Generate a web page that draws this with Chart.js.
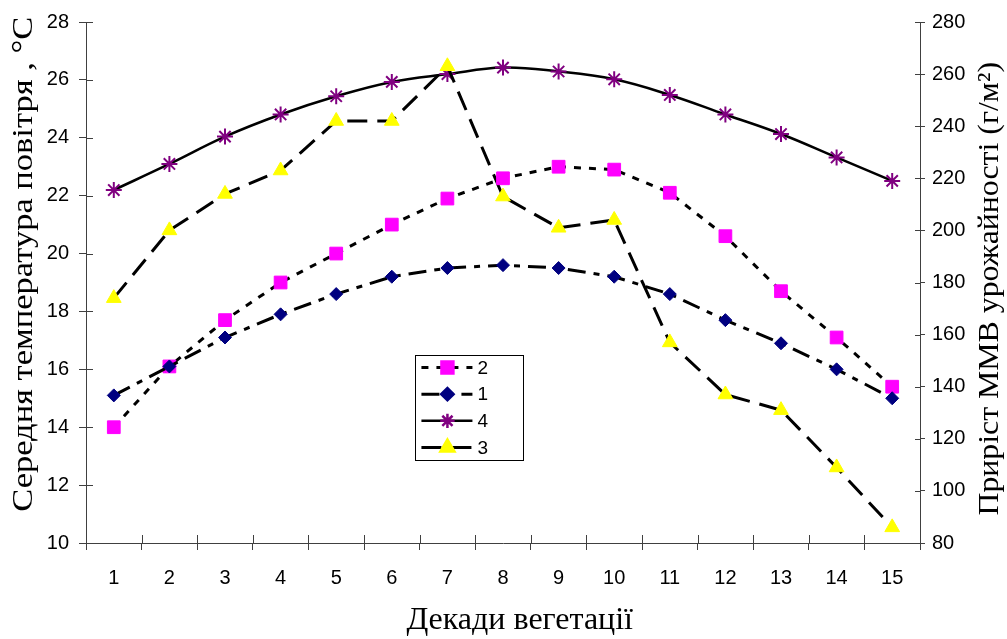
<!DOCTYPE html>
<html>
<head>
<meta charset="utf-8">
<script src="https://cdn.jsdelivr.net/npm/chart.js@4.4.0/dist/chart.umd.min.js"></script>
<style>
    html, body { margin: 0; padding: 0; background: #fff; }
    #wrap { width: 1007px; height: 639px; position: relative; }
</style>
</head>
<body>
<div id="wrap"><canvas id="chart"></canvas></div>
<script>
// Декади вегетації
const decades = ['1', '2', '3', '4', '5', '6', '7', '8', '9', '10', '11', '12', '13', '14', '15'];

// temperature series (left axis, °C)
const series1 = [15.1, 16.1, 17.1, 17.9, 18.6, 19.2, 19.5, 19.6, 19.5, 19.2, 18.6, 17.7, 16.9, 16.0, 15.0];
const series2 = [14.0, 16.1, 17.7, 19.0, 20.0, 21.0, 21.9, 22.6, 23.0, 22.9, 22.1, 20.6, 18.7, 17.1, 15.4];

// yield growth series (right axis, г/м2)
const series3 = [174, 200, 214, 223, 242, 242, 263, 213, 201, 204, 157, 137, 131, 109, 86];
const series4 = [215.5, 225.5, 236, 244.5, 251.5, 257, 260, 262.5, 261, 258, 252, 244.5, 237, 228, 219];

const leftTicks = { min: 10, max: 28, step: 2 };
const rightTicks = { min: 80, max: 280, step: 20 };

const legendOrder = ['2', '1', '4', '3'];

const leftTitle = 'Середня температура повітря , °C';
const rightTitle = 'Приріст ММВ урожайності (г/м²)';
const bottomTitle = 'Декади вегетації';

const axisColor = '#404040';
const serif = '"Liberation Serif", "Times New Roman", serif';
const tickFont = { family: '"Liberation Sans", Arial, sans-serif', size: 20 };

// ticks in the reference cross the axis line, Chart.js only draws the outer half
const innerTicks = {
    id: 'innerTicks',
    afterDatasetsDraw(chart) {
        const ctx = chart.ctx;
        const area = chart.chartArea;
        ctx.save();
        ctx.strokeStyle = axisColor;
        ctx.lineWidth = 1;
        ctx.beginPath();
        const x = chart.scales.x;
        for (let i = 0; i <= decades.length; i++) {
            const px = Math.round(x.getPixelForValue(i - 0.5)) + 0.5;
            ctx.moveTo(px, area.bottom);
            ctx.lineTo(px, area.bottom - 8);
        }
        const yl = chart.scales.y;
        yl.ticks.forEach(function (t) {
            const py = Math.round(yl.getPixelForValue(t.value)) + 0.5;
            ctx.moveTo(area.left, py);
            ctx.lineTo(area.left + 7, py);
        });
        const yr = chart.scales.y1;
        yr.ticks.forEach(function (t) {
            const py = Math.round(yr.getPixelForValue(t.value)) + 0.5;
            ctx.moveTo(area.right, py);
            ctx.lineTo(area.right - 5, py);
        });
        ctx.stroke();
        ctx.restore();
    }
};

// both side titles read bottom-to-top and are a bit stretched in the original
function drawVertical(ctx, text, x, y, stretch) {
    ctx.save();
    ctx.translate(x, y);
    ctx.rotate(-Math.PI / 2);
    ctx.scale(stretch, 1);
    ctx.fillText(text, 0, 0);
    ctx.restore();
}

const axisTitles = {
    id: 'axisTitles',
    afterDraw(chart) {
        const ctx = chart.ctx;
        const area = chart.chartArea;
        const h = area.bottom - area.top;
        const w = area.right - area.left;
        ctx.save();
        ctx.fillStyle = '#000';
        ctx.font = '30px ' + serif;
        ctx.textAlign = 'center';
        ctx.textBaseline = 'middle';
        drawVertical(ctx, leftTitle, 24, area.top + h * 0.465, 1.15);
        drawVertical(ctx, rightTitle, chart.width - 17, area.top + h * 0.512, 1.06);
        // bottom title sits a little right of the plot centre
        ctx.font = '32px ' + serif;
        ctx.fillText(bottomTitle, area.left + w * 0.52, chart.height - 18);
        ctx.restore();
    }
};

// boxed legend inside the plot, like the original
const boxLegend = {
    id: 'boxLegend',
    afterDraw(chart) {
        const ctx = chart.ctx;
        const area = chart.chartArea;
        const bx = area.left + (area.right - area.left) * 0.395;
        const by = area.top + (area.bottom - area.top) * 0.64;
        const bw = 108, bh = 105;
        ctx.save();
        ctx.strokeStyle = '#000';
        ctx.lineWidth = 1;
        ctx.strokeRect(Math.round(bx) + 0.5, Math.round(by) + 0.5, bw, bh);

        legendOrder.forEach(function (name, i) {
            const idx = chart.data.datasets.findIndex(function (d) { return d.label === name; });
            const ds = chart.data.datasets[idx];
            const y = by + 12 + i * 26.7;
            const x0 = bx + 6, x1 = bx + 57, xm = bx + 32;

            ctx.strokeStyle = '#000';
            ctx.lineWidth = ds.borderWidth;
            ctx.setLineDash(ds.borderDash || []);
            ctx.beginPath();
            ctx.moveTo(x0, y);
            ctx.lineTo(x1, y);
            ctx.stroke();
            ctx.setLineDash([]);

            ctx.fillStyle = ds.pointBackgroundColor;
            ctx.strokeStyle = ds.pointBorderColor;
            Chart.helpers.drawPoint(ctx, {
                pointStyle: ds.pointStyle,
                radius: ds.pointRadius * 0.9,
                borderWidth: ds.pointBorderWidth,
                rotation: 0
            }, xm, y);

            ctx.fillStyle = '#000';
            ctx.font = '19px "Liberation Sans", Arial, sans-serif';
            ctx.textBaseline = 'middle';
            ctx.textAlign = 'left';
            ctx.fillText(name, x1 + 5, y + 1);
        });
        ctx.restore();
    }
};

new Chart(document.getElementById('chart'), {
    type: 'line',
    data: {
        labels: decades,
        datasets: [
            {
                label: '1',
                data: series1,
                yAxisID: 'y',
                borderColor: '#000',
                borderWidth: 3,
                borderDash: [18, 8, 6, 8],
                pointStyle: 'rectRot',
                pointRadius: 6.5,
                pointBackgroundColor: '#000080',
                pointBorderColor: '#000080',
                pointBorderWidth: 1,
                tension: 0
            },
            {
                label: '2',
                data: series2,
                yAxisID: 'y',
                borderColor: '#000',
                borderWidth: 3,
                borderDash: [7, 8],
                pointStyle: 'rect',
                pointRadius: 9,
                pointBackgroundColor: '#ff00ff',
                pointBorderColor: '#ff00ff',
                pointBorderWidth: 1,
                tension: 0
            },
            {
                label: '3',
                data: series3,
                yAxisID: 'y1',
                borderColor: '#000',
                borderWidth: 3,
                borderDash: [20, 10],
                pointStyle: 'triangle',
                pointRadius: 8.5,
                pointBackgroundColor: '#ffff00',
                pointBorderColor: '#ffff00',
                pointBorderWidth: 1,
                tension: 0
            },
            {
                label: '4',
                data: series4,
                yAxisID: 'y1',
                borderColor: '#000',
                borderWidth: 2.5,
                pointStyle: 'star',
                pointRadius: 8,
                pointBackgroundColor: '#800080',
                pointBorderColor: '#800080',
                pointBorderWidth: 2,
                tension: 0.4
            }
        ]
    },
    options: {
        responsive: true,
        maintainAspectRatio: false,
        animation: false,
        layout: { padding: { top: 20, left: 0, right: 0, bottom: 0 } },
        plugins: {
            legend: { display: false },
            tooltip: { enabled: false }
        },
        scales: {
            x: {
                type: 'category',
                offset: true,
                grid: { offset: true, drawOnChartArea: false, tickLength: 7, color: axisColor },
                border: { color: axisColor },
                ticks: { color: '#000', font: tickFont, padding: 16, maxRotation: 0 },
                afterFit: function (scale) { scale.height = 96; }
            },
            y: {
                position: 'left',
                min: leftTicks.min,
                max: leftTicks.max,
                grid: { drawOnChartArea: false, tickLength: 7, color: axisColor },
                border: { color: axisColor },
                ticks: { stepSize: leftTicks.step, color: '#000', font: tickFont, padding: 10 },
                afterFit: function (scale) { scale.width = 86; }
            },
            y1: {
                position: 'right',
                min: rightTicks.min,
                max: rightTicks.max,
                grid: { drawOnChartArea: false, tickLength: 5, color: axisColor },
                border: { color: axisColor },
                ticks: { stepSize: rightTicks.step, color: '#000', font: tickFont, padding: 7 },
                afterFit: function (scale) { scale.width = 87; }
            }
        }
    },
    plugins: [innerTicks, axisTitles, boxLegend]
});
</script>
</body>
</html>
